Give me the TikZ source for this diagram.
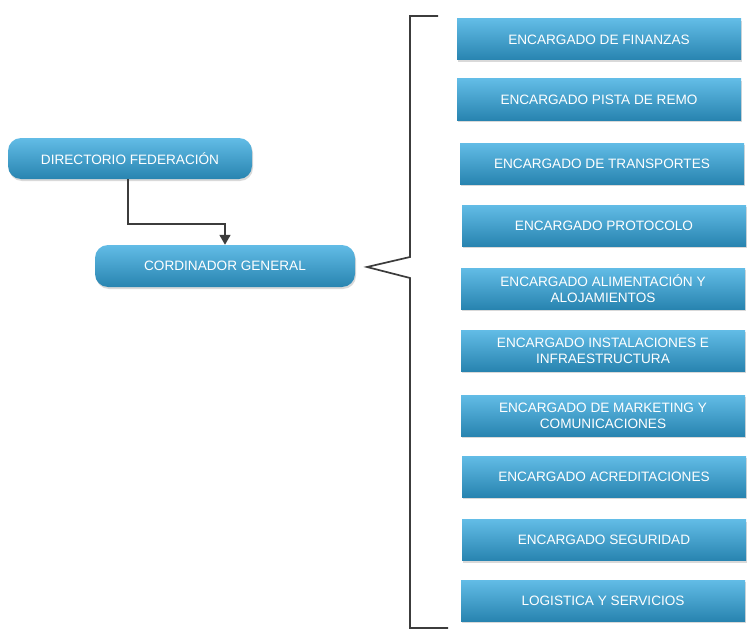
\documentclass[tikz,border=0pt]{standalone}
\usepackage{fontspec}
\setmainfont{Liberation Sans}
\usetikzlibrary{arrows.meta,shadows}
\definecolor{boxtop}{RGB}{98,188,230}
\definecolor{boxbottom}{RGB}{40,132,176}
\definecolor{linegray}{RGB}{60,60,60}
\tikzset{
  cargo/.style={top color=boxtop, bottom color=boxbottom, draw=none, text=white,
    inner sep=0pt, minimum width=284pt, minimum height=41pt, align=center,
    font=\fontsize{13.6}{16}\selectfont,
    drop shadow={shadow xshift=1pt, shadow yshift=-2pt, opacity=0.3}},
  jefe/.style={cargo, rounded corners=13pt},
  trazo/.style={draw=linegray, line width=1.7pt}
}
\begin{document}
\begin{tikzpicture}[x=1pt,y=-1pt]
		\useasboundingbox (0,0) rectangle (753,642);
		
		\node (dir) at (130,158.5) [jefe, minimum width=244pt] {DIRECTORIO FEDERACIÓN};
		\node (cord) at (225,266) [jefe, minimum width=260pt, minimum height=42pt] {CORDINADOR GENERAL};
		
		\coordinate (bend) at (128,224);
		\draw[trazo, -{Triangle[length=10pt,width=11pt]}] (dir.south -| bend) |- (bend) -| (cord.north);
		
		\node (fin) at (599,39.5) [cargo] {ENCARGADO DE FINANZAS};
		\node (pista) at (599,99.5) [cargo] {ENCARGADO PISTA DE REMO};
		\node (trans) at (602,163.5) [cargo] {ENCARGADO DE TRANSPORTES};
		\node (prot) at (604,225.5) [cargo] {ENCARGADO PROTOCOLO};
		\node (alim) at (603,288.5) [cargo] {ENCARGADO ALIMENTACIÓN Y\\ALOJAMIENTOS};
		\node (inst) at (603,350.5) [cargo] {ENCARGADO INSTALACIONES E\\INFRAESTRUCTURA};
		\node (mark) at (603,415.5) [cargo] {ENCARGADO DE MARKETING Y\\COMUNICACIONES};
		\node (acre) at (604,476.5) [cargo] {ENCARGADO ACREDITACIONES};
		\node (seg) at (604,540) [cargo] {ENCARGADO SEGURIDAD};
		\node (log) at (603,600.5) [cargo] {LOGISTICA Y SERVICIOS};
		
		\coordinate (btop) at (438,16);
		\coordinate (tip) at (367,267);
		\coordinate (bbot) at (448,628);
		\draw[trazo] (btop) -- (410,16) -- (410,257) -- (tip) -- (410,278) -- (410,628) -- (bbot);
	\end{tikzpicture}
\end{document}
